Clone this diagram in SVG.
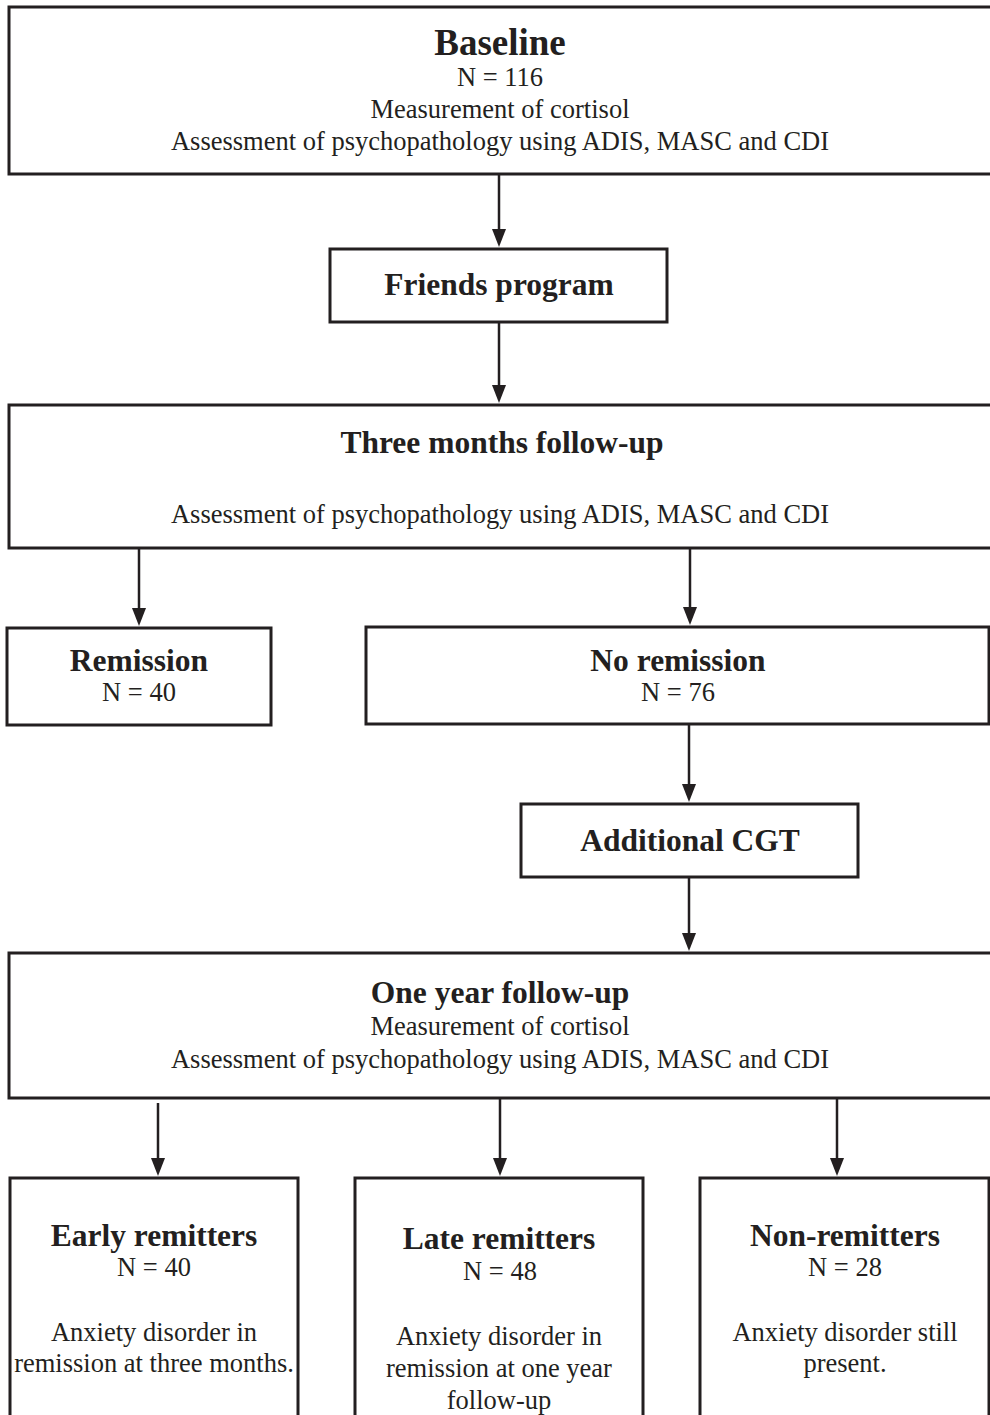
<svg xmlns="http://www.w3.org/2000/svg" width="990" height="1415" viewBox="0 0 990 1415">
<style>
.box{fill:#ffffff;stroke:#231f20;stroke-width:3}
.t{font-family:"Liberation Serif","Times New Roman",serif;fill:#231f20;text-anchor:middle;font-size:26.5px}
.b{font-weight:bold;font-size:31.5px}
.h{font-weight:bold;font-size:37px}
.c{stroke:#231f20;stroke-width:2.5;fill:none}
</style>
<defs>
<marker id="ah" markerUnits="userSpaceOnUse" markerWidth="20" markerHeight="16" viewBox="0 -8 20 16" refX="10" refY="0" orient="auto">
<path d="M0,-7 L18,0 L0,7 z" fill="#231f20"/>
</marker>
</defs>
<rect x="0" y="0" width="990" height="1415" fill="#ffffff"/>
<g id="connectors">
<line class="c" x1="499" y1="174" x2="499" y2="239" marker-end="url(#ah)"/>
<line class="c" x1="499" y1="322" x2="499" y2="395" marker-end="url(#ah)"/>
<line class="c" x1="139" y1="548" x2="139" y2="618" marker-end="url(#ah)"/>
<line class="c" x1="690" y1="548" x2="690" y2="617" marker-end="url(#ah)"/>
<line class="c" x1="689" y1="724" x2="689" y2="794" marker-end="url(#ah)"/>
<line class="c" x1="689" y1="877" x2="689" y2="943" marker-end="url(#ah)"/>
<line class="c" x1="158" y1="1103" x2="158" y2="1168" marker-end="url(#ah)"/>
<line class="c" x1="500" y1="1098" x2="500" y2="1168" marker-end="url(#ah)"/>
<line class="c" x1="837" y1="1098" x2="837" y2="1168" marker-end="url(#ah)"/>
</g>
<g id="baseline">
<rect class="box" x="9" y="7" width="990" height="167"/>
<text class="t h" x="500" y="55">Baseline</text>
<text class="t" x="500" y="86">N = 116</text>
<text class="t" x="500" y="118">Measurement of cortisol</text>
<text class="t" x="500" y="150">Assessment of psychopathology using ADIS, MASC and CDI</text>
</g>
<g id="friends">
<rect class="box" x="330" y="249" width="337" height="73"/>
<text class="t b" x="499" y="295">Friends program</text>
</g>
<g id="three-months">
<rect class="box" x="9" y="405" width="990" height="143"/>
<text class="t b" x="502" y="453">Three months follow-up</text>
<text class="t" x="500" y="523">Assessment of psychopathology using ADIS, MASC and CDI</text>
</g>
<g id="remission">
<rect class="box" x="7" y="628" width="264" height="97"/>
<text class="t b" x="139" y="671">Remission</text>
<text class="t" x="139" y="701">N = 40</text>
</g>
<g id="no-remission">
<rect class="box" x="366" y="627" width="623" height="97"/>
<text class="t b" x="678" y="671">No remission</text>
<text class="t" x="678" y="701">N = 76</text>
</g>
<g id="additional-cgt">
<rect class="box" x="521" y="804" width="337" height="73"/>
<text class="t b" x="690" y="851">Additional CGT</text>
</g>
<g id="one-year">
<rect class="box" x="9" y="953" width="990" height="145"/>
<text class="t b" x="500" y="1003">One year follow-up</text>
<text class="t" x="500" y="1035">Measurement of cortisol</text>
<text class="t" x="500" y="1068">Assessment of psychopathology using ADIS, MASC and CDI</text>
</g>
<g id="early-remitters">
<rect class="box" x="10" y="1178" width="288" height="260"/>
<text class="t b" x="154" y="1246">Early remitters</text>
<text class="t" x="154" y="1276">N = 40</text>
<text class="t" x="154" y="1341">Anxiety disorder in</text>
<text class="t" x="154" y="1372">remission at three months.</text>
</g>
<g id="late-remitters">
<rect class="box" x="355" y="1178" width="288" height="260"/>
<text class="t b" x="499" y="1249">Late remitters</text>
<text class="t" x="500" y="1280">N = 48</text>
<text class="t" x="499" y="1345">Anxiety disorder in</text>
<text class="t" x="499" y="1377">remission at one year</text>
<text class="t" x="499" y="1409">follow-up</text>
</g>
<g id="non-remitters">
<rect class="box" x="700" y="1178" width="289" height="260"/>
<text class="t b" x="845" y="1246">Non-remitters</text>
<text class="t" x="845" y="1276">N = 28</text>
<text class="t" x="845" y="1341">Anxiety disorder still</text>
<text class="t" x="845" y="1372">present.</text>
</g>
</svg>
